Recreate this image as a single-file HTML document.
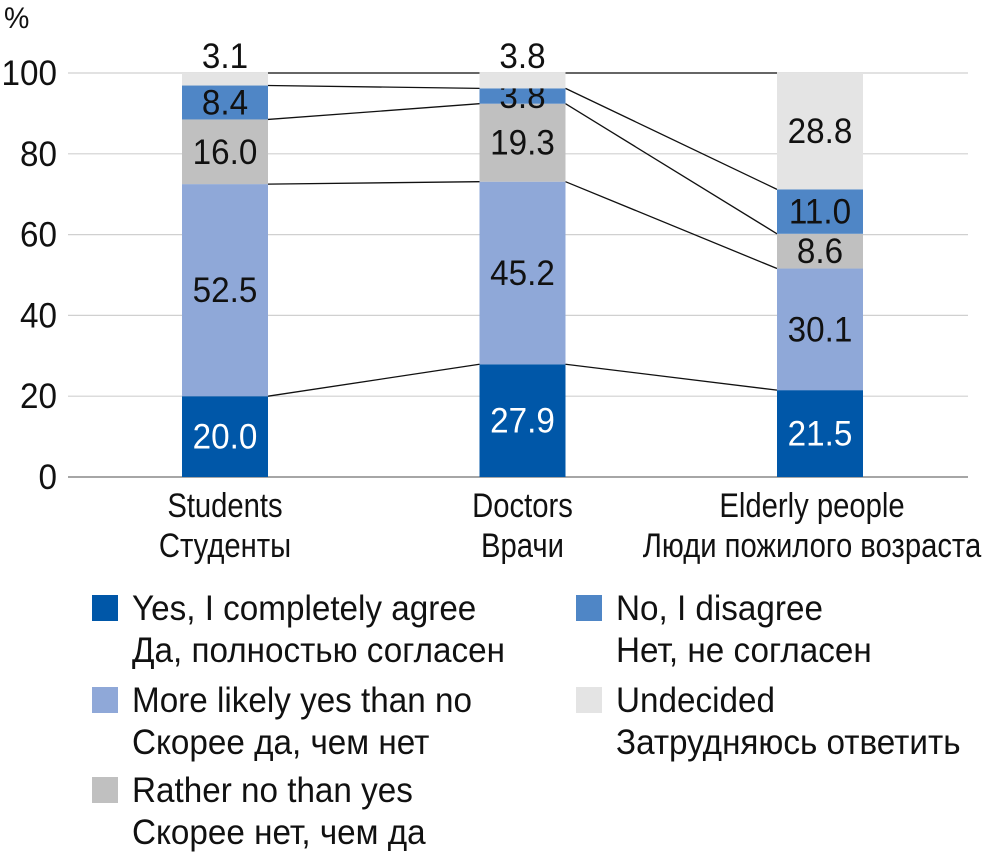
<!DOCTYPE html>
<html><head><meta charset="utf-8"><style>
body{margin:0;background:#fff}
svg text{font-family:"Liberation Sans Narrow","Liberation Sans",sans-serif;fill:#111}
</style></head><body>
<svg id="c" width="985" height="854" xmlns="http://www.w3.org/2000/svg"></svg>
<script>
const categories=[["Students","Студенты"],["Doctors","Врачи"],["Elderly people","Люди пожилого возраста"]];
const seriesNames=[["Yes, I completely agree","Да, полностью согласен"],["More likely yes than no","Скорее да, чем нет"],["Rather no than yes","Скорее нет, чем да"],["No, I disagree","Нет, не согласен"],["Undecided","Затрудняюсь ответить"]];
const yes=[20.0,27.9,21.5];
const likelyYes=[52.5,45.2,30.1];
const ratherNo=[16.0,19.3,8.6];
const no=[8.4,3.8,11.0];
const undecided=[3.1,3.8,28.8];
const yTicks=[0,20,40,60,80,100];
const series=[yes,likelyYes,ratherNo,no,undecided];
const colors=["#0057a8","#8fa8d8","#c0c0c0","#4f86c6","#e4e4e4"];
const svg=document.getElementById('c');const NS="http://www.w3.org/2000/svg";
function mk(t,a,p){const e=document.createElementNS(NS,t);for(const k in a)e.setAttribute(k,a[k]);(p||svg).appendChild(e);return e;}
function txt(x,yy,s,anchor,size,p,sx){const e=mk('text',{x:0,y:0,'text-anchor':anchor,'font-size':size,transform:`translate(${x},${yy}) scale(${sx||0.95},1)`},p);e.textContent=s;return e;}
const y=v=>477-v*4.04;
const cx=i=>225+i*297.5, bw=86;
yTicks.forEach(t=>{
 if(t>0){const g=mk('line',{x1:68,x2:968,y1:y(t),y2:y(t),stroke:'#d0d0d0','stroke-width':1.2});
 }
 const tx=txt(57,y(t)+12,t,'end',35);
 
});
const ax=mk('line',{x1:68,x2:968,y1:477,y2:477,stroke:'#888','stroke-width':1.5});

const pc=txt(4,28,'%','start',30);

const cum=categories.map((c,i)=>{let s=0;return series.map(a=>s+=a[i]);});
for(let i=0;i<categories.length-1;i++){
 for(let k=0;k<series.length;k++){
  const l=mk('line',{x1:cx(i)+bw/2,y1:y(cum[i][k]),x2:cx(i+1)-bw/2,y2:y(cum[i+1][k]),stroke:'#111','stroke-width':1.3});
  
 }
}
categories.forEach((c,i)=>{
 let base=0;
 series.forEach((a,k)=>{
  const v=a[i];
  const r=mk('rect',{x:cx(i)-bw/2,y:y(base+v),width:bw,height:v*4.04,fill:colors[k]});
  
  let ly=y(base+v/2)+12;
  if(k==series.length-1&&v<5)ly=y(100)-5;
  const t=txt(cx(i),ly,v.toFixed(1),'middle',35);
  if(k==0)t.style.fill='#fff';
  
  base+=v;
 });
 c.forEach((s,j)=>{const t=txt(cx(i)-(i==2?8:0),517+j*40,s,'middle',34,null,0.86);
 });
});
const lp=[[92,595],[92,687],[92,777],[576,595],[576,687]];
seriesNames.forEach((n,k)=>{
 const [lx,ly]=lp[k];
 const g=mk('g',{});
 mk('rect',{x:lx,y:ly,width:26,height:26,fill:colors[k]},g);
 n.forEach((s,j)=>{txt(lx+40,ly+25+j*42,s,'start',35,g);});
});
</script>
</body></html>
